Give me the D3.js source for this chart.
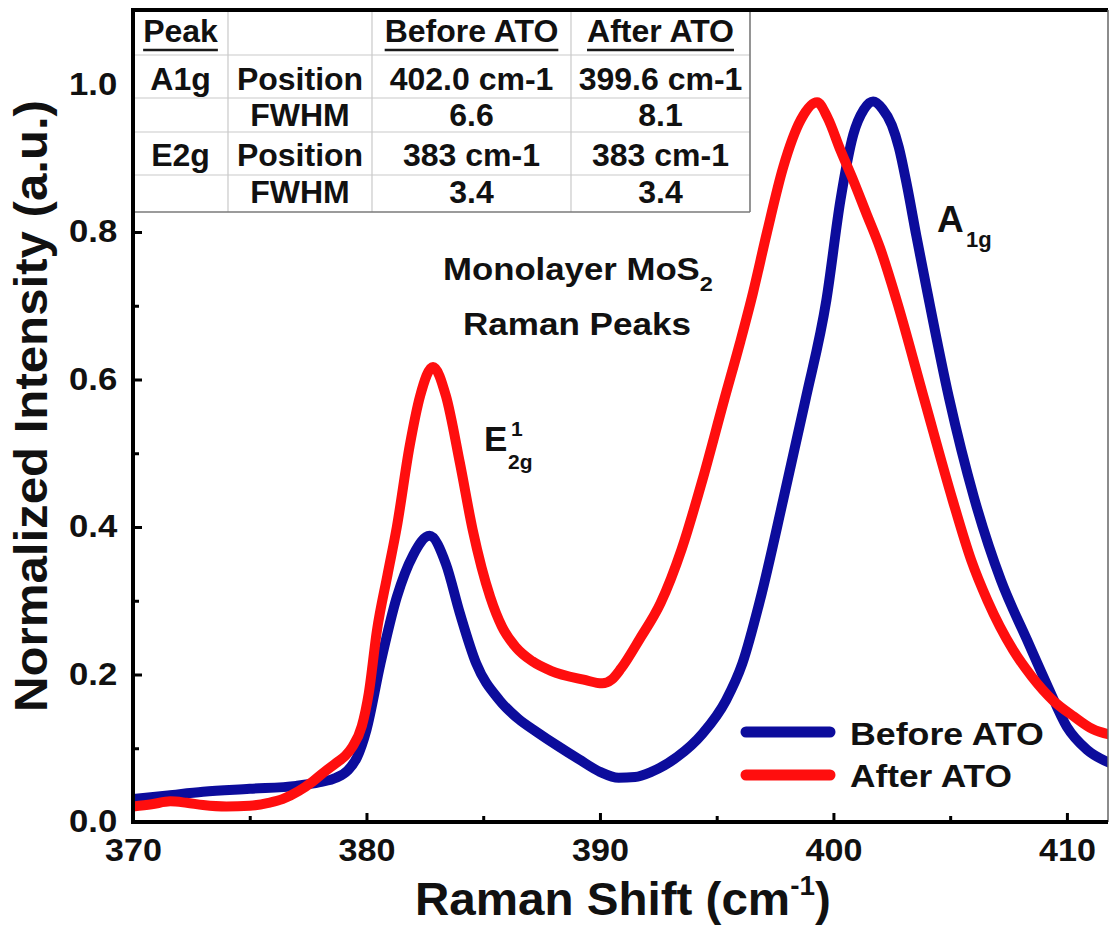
<!DOCTYPE html>
<html>
<head>
<meta charset="utf-8">
<script src="https://cdn.jsdelivr.net/npm/d3@7"></script>
<style>
  html, body { margin: 0; padding: 0; background: #fff; }
  svg text { font-family: "Liberation Sans", Arial, Helvetica, sans-serif; font-weight: bold; fill: #111; }
</style>
</head>
<body>
<svg id="chart" width="1112" height="930"></svg>
<script>
// Raman spectra of monolayer MoS2, normalized intensity vs Raman shift (cm^-1)
const beforeShift = [370.0, 371.5, 373.0, 375.0, 377.0, 378.0, 378.7, 379.2, 379.6, 380.0,
  380.6, 381.3, 382.0, 382.7, 383.4, 384.0, 384.7, 385.7, 386.5, 387.3,
  388.2, 389.1, 390.0, 390.8, 391.5, 392.2, 393.3, 394.4, 395.4, 396.1,
  396.85, 397.85, 398.8, 399.7, 400.3, 400.85, 401.3, 401.7, 402.1, 402.5,
  402.8, 403.15, 403.55, 404.0, 404.95, 406.02, 407.17, 408.29, 409.19, 410.0, 410.86, 411.84];
const beforeIntensity = [0.031, 0.036, 0.041, 0.045, 0.049, 0.054, 0.060, 0.070, 0.088, 0.125,
  0.215, 0.305, 0.362, 0.388, 0.350, 0.283, 0.215, 0.165, 0.140, 0.122,
  0.103, 0.085, 0.068, 0.060, 0.061, 0.068, 0.088, 0.120, 0.165, 0.215,
  0.300, 0.437, 0.572, 0.708, 0.843, 0.932, 0.966, 0.977, 0.967, 0.945,
  0.915, 0.863, 0.795, 0.722, 0.575, 0.440, 0.328, 0.247, 0.183, 0.129, 0.098, 0.080];

const afterShift = [370.0, 370.8, 371.6, 372.3, 373.0, 374.0, 375.0, 375.8, 376.4, 377.1,
  377.7, 378.2, 378.7, 379.1, 379.4, 379.8, 380.1, 380.45, 380.9, 381.3,
  381.85, 382.3, 382.85, 383.4, 384.0, 384.55, 385.3, 385.8, 386.4, 387.1,
  387.9, 389.3, 390.1, 390.5, 390.9, 391.7, 392.6, 393.5, 394.4, 395.3,
  396.0, 396.55, 397.15, 397.85, 398.6, 399.3, 399.75, 400.3, 400.85, 401.4,
  402.0, 402.7, 403.9, 405.1, 405.9, 406.6, 407.7, 408.5, 409.4, 410.3, 411.1, 411.9];
const afterIntensity = [0.021, 0.024, 0.028, 0.026, 0.023, 0.021, 0.022, 0.026, 0.031, 0.042,
  0.055, 0.068, 0.080, 0.090, 0.102, 0.130, 0.175, 0.260, 0.335, 0.400,
  0.510, 0.578, 0.617, 0.578, 0.487, 0.396, 0.305, 0.265, 0.237, 0.218,
  0.205, 0.193, 0.188, 0.193, 0.208, 0.248, 0.297, 0.370, 0.465, 0.570,
  0.650, 0.717, 0.799, 0.888, 0.952, 0.976, 0.955, 0.911, 0.870, 0.826,
  0.778, 0.708, 0.572, 0.437, 0.355, 0.300, 0.233, 0.197, 0.165, 0.143, 0.126, 0.118];

const seriesNames = ["Before ATO", "After ATO"];
const seriesColors = ["#0c0c9c", "#ff0e0e"];

const xTicks = [370, 380, 390, 400, 410];
const xMinorTicks = [375, 385, 395, 405];
const yTicks = [0.0, 0.2, 0.4, 0.6, 0.8, 1.0];
const yMinorTicks = [0.1, 0.3, 0.5, 0.7, 0.9];

const tableHeader = ["Peak", "", "Before ATO", "After ATO"];
const tableRows = [
  ["A1g", "Position", "402.0 cm-1", "399.6 cm-1"],
  ["", "FWHM", "6.6", "8.1"],
  ["E2g", "Position", "383 cm-1", "383 cm-1"],
  ["", "FWHM", "3.4", "3.4"]
];

// ---- layout ----
const plot = { left: 133, right: 1108, top: 10, bottom: 822 };
const svg = d3.select("#chart");

const x = d3.scaleLinear().domain([370, 411.76]).range([plot.left, plot.right]);
const y = d3.scaleLinear().domain([0, 1.1]).range([plot.bottom, 10.75]);

// text helper: places a text inside a group that can be stretched horizontally
function putText(parent, px, py, size, anchor) {
  const g = parent.append("g").attr("transform", `translate(${px},${py})`);
  const t = g.append("text").attr("font-size", size).attr("text-anchor", anchor || "start");
  return { g, t };
}
// stretch a text group horizontally so its width becomes `target`
function fitWidth(obj, px, py, target) {
  const w = obj.t.node().getBBox().width;
  obj.g.attr("transform", `translate(${px},${py}) scale(${target / w},1)`);
}

svg.append("defs").append("clipPath").attr("id", "plotClip")
  .append("rect")
  .attr("x", plot.left).attr("y", plot.top)
  .attr("width", plot.right - plot.left).attr("height", plot.bottom - plot.top);

// ---- axes ----
const axisFont = 31;
const gx = svg.append("g").attr("transform", `translate(0,${plot.bottom})`)
  .call(d3.axisBottom(x).tickValues(xTicks).tickSize(-9).tickPadding(17).tickFormat(d3.format("d")));
const gxm = svg.append("g").attr("transform", `translate(0,${plot.bottom})`)
  .call(d3.axisBottom(x).tickValues(xMinorTicks).tickSize(-6).tickFormat(""));
const gy = svg.append("g").attr("transform", `translate(${plot.left},0)`)
  .call(d3.axisLeft(y).tickValues(yTicks).tickSize(-9).tickPadding(15).tickFormat(d3.format(".1f")));
const gym = svg.append("g").attr("transform", `translate(${plot.left},0)`)
  .call(d3.axisLeft(y).tickValues(yMinorTicks).tickSize(-6).tickFormat(""));

[gx, gxm, gy, gym].forEach(g => {
  g.attr("font-family", null).attr("font-size", null);
  g.select(".domain").remove();
  g.selectAll(".tick line").attr("stroke", "#000").attr("stroke-width", 3);
  g.selectAll(".tick text").attr("font-size", axisFont).attr("fill", "#111");
});
gx.selectAll(".tick text").attr("transform", "scale(1.1,1)");
gy.selectAll(".tick text").attr("transform", "scale(1.12,1)").attr("x", -14);

// ---- spectra ----
const line = d3.line()
  .x(d => x(d[0]))
  .y(d => y(d[1]))
  .curve(d3.curveMonotoneX);

const series = [
  { name: seriesNames[0], color: seriesColors[0], pts: d3.zip(beforeShift, beforeIntensity) },
  { name: seriesNames[1], color: seriesColors[1], pts: d3.zip(afterShift, afterIntensity) }
];

svg.append("g").attr("clip-path", "url(#plotClip)")
  .selectAll("path")
  .data(series)
  .join("path")
  .attr("d", d => line(d.pts))
  .attr("fill", "none")
  .attr("stroke", d => d.color)
  .attr("stroke-width", 10)
  .attr("stroke-linejoin", "round")
  .attr("stroke-linecap", "round");

// ---- parameter table ----
const colEdges = [133, 228, 372, 571, 750];
const rowEdges = [10, 55, 98, 132, 175, 212];
const rowBase = [42, 90, 126, 166, 203];
const tg = svg.append("g");
tg.append("rect")
  .attr("x", colEdges[0]).attr("y", rowEdges[0])
  .attr("width", colEdges[4] - colEdges[0]).attr("height", rowEdges[5] - rowEdges[0])
  .attr("fill", "#fff");
colEdges.slice(1, 4).forEach(cx => tg.append("line")
  .attr("x1", cx).attr("x2", cx).attr("y1", rowEdges[0]).attr("y2", rowEdges[5])
  .attr("stroke", "#c9c9c9").attr("stroke-width", 1.2));
rowEdges.slice(1, 5).forEach(ry => tg.append("line")
  .attr("x1", colEdges[0]).attr("x2", colEdges[4]).attr("y1", ry).attr("y2", ry)
  .attr("stroke", "#c9c9c9").attr("stroke-width", 1.2));
tg.append("line").attr("x1", colEdges[4]).attr("x2", colEdges[4])
  .attr("y1", rowEdges[0]).attr("y2", rowEdges[5]).attr("stroke", "#7a7a7a").attr("stroke-width", 1.6);
tg.append("line").attr("x1", colEdges[0]).attr("x2", colEdges[4])
  .attr("y1", rowEdges[5]).attr("y2", rowEdges[5]).attr("stroke", "#7a7a7a").attr("stroke-width", 1.6);

const cellRows = [tableHeader].concat(tableRows);
cellRows.forEach((row, ri) => {
  row.forEach((txt, ci) => {
    if (!txt) return;
    const cx = (colEdges[ci] + colEdges[ci + 1]) / 2;
    const t = tg.append("text")
      .attr("x", cx).attr("y", rowBase[ri])
      .attr("text-anchor", "middle")
      .attr("font-size", 32)
      .attr("fill", "#1a1a1a")
      .text(txt);
    if (ri === 0) {
      const w = t.node().getComputedTextLength();
      tg.append("line")
        .attr("x1", cx - w / 2).attr("x2", cx + w / 2)
        .attr("y1", rowBase[ri] + 8).attr("y2", rowBase[ri] + 8)
        .attr("stroke", "#1a1a1a").attr("stroke-width", 2.5);
    }
  });
});

// ---- frame ----
svg.append("line").attr("x1", plot.left).attr("x2", plot.right)
  .attr("y1", plot.top).attr("y2", plot.top).attr("stroke", "#000").attr("stroke-width", 4);
svg.append("line").attr("x1", plot.right).attr("x2", plot.right)
  .attr("y1", plot.top).attr("y2", plot.bottom).attr("stroke", "#666").attr("stroke-width", 1.5);
svg.append("line").attr("x1", plot.left).attr("x2", plot.left)
  .attr("y1", plot.top - 2).attr("y2", plot.bottom + 2).attr("stroke", "#000").attr("stroke-width", 4);
svg.append("line").attr("x1", plot.left - 2).attr("x2", plot.right)
  .attr("y1", plot.bottom).attr("y2", plot.bottom).attr("stroke", "#000").attr("stroke-width", 4);

// ---- annotations ----
const ann1 = putText(svg, 443, 280, 31, "start");
ann1.t.append("tspan").text("Monolayer MoS");
ann1.t.append("tspan").attr("font-size", 21).attr("dy", 11).text("2");
fitWidth(ann1, 443, 280, 270);

const ann2 = putText(svg, 463, 335, 31, "start");
ann2.t.text("Raman Peaks");
fitWidth(ann2, 463, 335, 228);

svg.append("text").attr("x", 484).attr("y", 451).attr("font-size", 35).text("E");
svg.append("text").attr("x", 511).attr("y", 436).attr("font-size", 21).text("1");
svg.append("text").attr("x", 508).attr("y", 469).attr("font-size", 21).text("2g");

svg.append("text").attr("x", 937).attr("y", 232).attr("font-size", 37).text("A");
svg.append("text").attr("x", 966).attr("y", 247).attr("font-size", 22).text("1g");

// ---- legend ----
const legendRows = [{ y: 732, base: 745 }, { y: 775, base: 787 }];
series.forEach((s, i) => {
  svg.append("line")
    .attr("x1", 746).attr("x2", 830)
    .attr("y1", legendRows[i].y).attr("y2", legendRows[i].y)
    .attr("stroke", s.color).attr("stroke-width", 11).attr("stroke-linecap", "round");
  const lt = putText(svg, 850, legendRows[i].base, 32, "start");
  lt.t.text(s.name);
  fitWidth(lt, 850, legendRows[i].base, i === 0 ? 194 : 162);
});

// ---- axis titles ----
const xt = putText(svg, 415, 915, 46, "start");
xt.t.append("tspan").text("Raman Shift (cm");
xt.t.append("tspan").attr("font-size", 27).attr("dy", -20).text("-1");
xt.t.append("tspan").attr("dy", 20).text(")");
fitWidth(xt, 415, 915, 416);

const ytG = svg.append("g").attr("transform", "translate(47,406) rotate(-90)");
const ytInner = ytG.append("g");
const ytText = ytInner.append("text").attr("font-size", 46).attr("text-anchor", "middle")
  .text("Normalized Intensity (a.u.)");
const ytw = ytText.node().getBBox().width;
ytInner.attr("transform", `scale(${612 / ytw},1)`);
</script>
</body>
</html>
